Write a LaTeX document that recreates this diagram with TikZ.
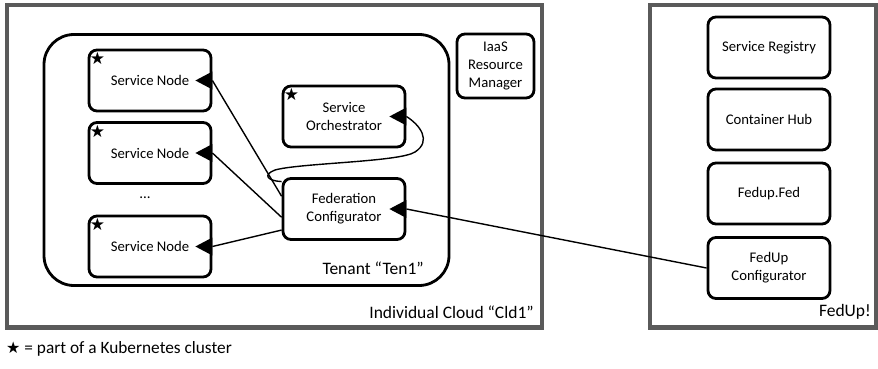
\documentclass[tikz,border=0pt]{standalone}
\usepackage{fontspec}
\setmainfont{Carlito}
\newfontfamily\symfont{DejaVu Sans}
\usetikzlibrary{calc}
\definecolor{framegray}{HTML}{5A5A5A}
\tikzset{
  box/.style={draw=black, line width=2.8pt, rounded corners=8pt, fill=white,
    minimum width=122pt, minimum height=61pt, align=center, inner sep=2pt,
    font=\fontsize{14.7}{18}\selectfont},
  frame/.style={draw=framegray, line width=4.2pt},
  tenant/.style={draw=black, line width=2.8pt, rounded corners=30pt},
  conn/.style={draw=black, line width=1.4pt},
  biglabel/.style={font=\fontsize{17.5}{20}\selectfont, inner sep=0pt},
  starmark/.style={font=\symfont\fontsize{17}{17}\selectfont, inner sep=0pt},
}
\newcommand{\tipat}[1]{\fill[black] ($(#1.east)+(-17,0)$) -- ++(17,-9) -- ++(0,18) -- cycle;}
\newcommand{\starat}[1]{\node[starmark] at ($(#1.north west)+(10,10)$) {★};}
\begin{document}
\begin{tikzpicture}[x=1pt,y=-1pt]
\useasboundingbox (0,0) rectangle (878,369);
% frames
\draw[frame] (6.7,5.3) rectangle (542,327.5);
\draw[frame] (650,5.3) rectangle (876,327.5);
\draw[tenant] (44,34.5) rectangle (449,285.5);
% boxes
\node[box] (sn1) at (150,80.5) {Service Node};
\node[box] (sn2) at (150,153) {Service Node};
\node[box] (sn3) at (150,246.5) {Service Node};
\node (dots) at (145,198) {\fontsize{15}{18}\selectfont ...};
\node[box] (orch) at (344,116.5) {Service\\Orchestrator};
\node[box] (fc) at (344,209) {Federation\\Configurator};
\node[box, minimum width=77pt, minimum height=64pt] (iaas) at (495.5,66) {IaaS\\Resource\\Manager};
\node[box] (sr) at (769,47.5) {Service Registry};
\node[box] (ch) at (769,119.5) {Container Hub};
\node[box] (ff) at (769,193.5) {Fedup.Fed};
\node[box] (fuc) at (769,268) {FedUp\\Configurator};
% stars
\starat{sn1}
\starat{sn2}
\starat{sn3}
\starat{orch}
% labels
\node[biglabel, anchor=east] (tenlabel) at (424,268) {Tenant “Ten1”};
\node[biglabel, anchor=east] (cldlabel) at (534,312) {Individual Cloud “Cld1”};
\node[biglabel, anchor=east] (fedlabel) at (871,312) {FedUp!};
\node[anchor=west, inner sep=0pt, font=\fontsize{17.3}{20}\selectfont] (legend) at (6,349) {{\symfont\fontsize{16}{16}\selectfont ★} = part of a Kubernetes cluster};
% connectors
\draw[conn] (sn1.east) -- ($(fc.north west)!0.3!(fc.south west)$);
\draw[conn] (sn2.east) -- ($(fc.north west)!0.63!(fc.south west)$);
\draw[conn] (sn3.east) -- ($(fc.north west)!0.83!(fc.south west)$);
\draw[conn] (orch.east) .. controls (420,125) and (432,141) .. (415,152)
  .. controls (400,162) and (300,163) .. (275,170)
  .. controls (262,175) and (268,181) .. ($(fc.north west)!0.07!(fc.south west)$);
\draw[conn] (fc.east) -- (fuc.west);
% arrow tips
\tipat{sn1}
\tipat{sn2}
\tipat{sn3}
\tipat{orch}
\tipat{fc}
\end{tikzpicture}
\end{document}
